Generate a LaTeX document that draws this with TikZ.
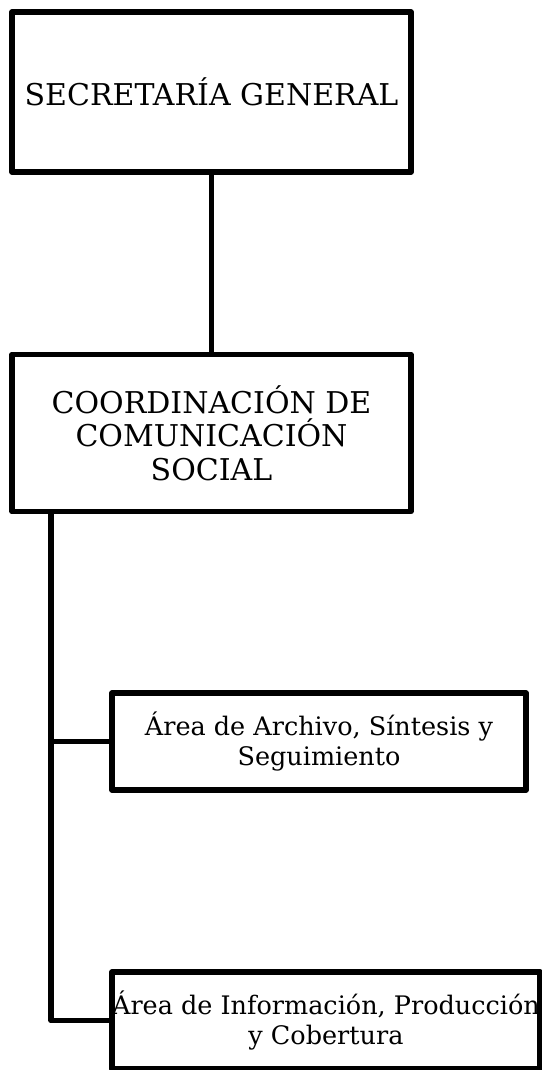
\documentclass[tikz,border=0pt]{standalone}
\usepackage{fontspec}
\setmainfont{DejaVu Serif}
\begin{document}
\begin{tikzpicture}[
        x=1pt, y=-1pt,
        every node/.style={font=\fontsize{25.5}{30}\selectfont},
        unitbox/.style={rectangle, draw=black, line width=5.6pt, line join=round, fill=white, align=center, inner sep=0pt},
        headbox/.style={unitbox, font=\fontsize{30}{33.5}\selectfont},
        conn/.style={draw=black, line width=5.6pt, line join=round}
        ]
        \useasboundingbox[fill=white] (0,0) rectangle (541,1070);

        % Boxes placed at pixel coordinates of the reference
        \node[headbox, minimum width=399pt, minimum height=160pt] (secgen) at (211.5, 92) {SECRETARÍA GENERAL};
        \node[headbox, minimum width=399pt, minimum height=157pt] (coordcs) at (211.5, 433) {COORDINACIÓN DE\\COMUNICACIÓN\\SOCIAL};
        \node[unitbox, minimum width=414pt, minimum height=97pt] (archivo) at (319, 741.5) {Área de Archivo, Síntesis y\\Seguimiento};
        \node[unitbox, minimum width=428pt, minimum height=97pt] (info) at (326, 1020.5) {Área de Información, Producción\\y Cobertura};

        % Trunk line on the left
        \coordinate (trunk) at (51, 512);

        \draw[conn] (secgen) -- (coordcs);
        \draw[conn] (coordcs.south -| trunk) |- (info.west);
        \draw[conn] (archivo.west) -- (archivo.west -| trunk);

    \end{tikzpicture}
\end{document}
